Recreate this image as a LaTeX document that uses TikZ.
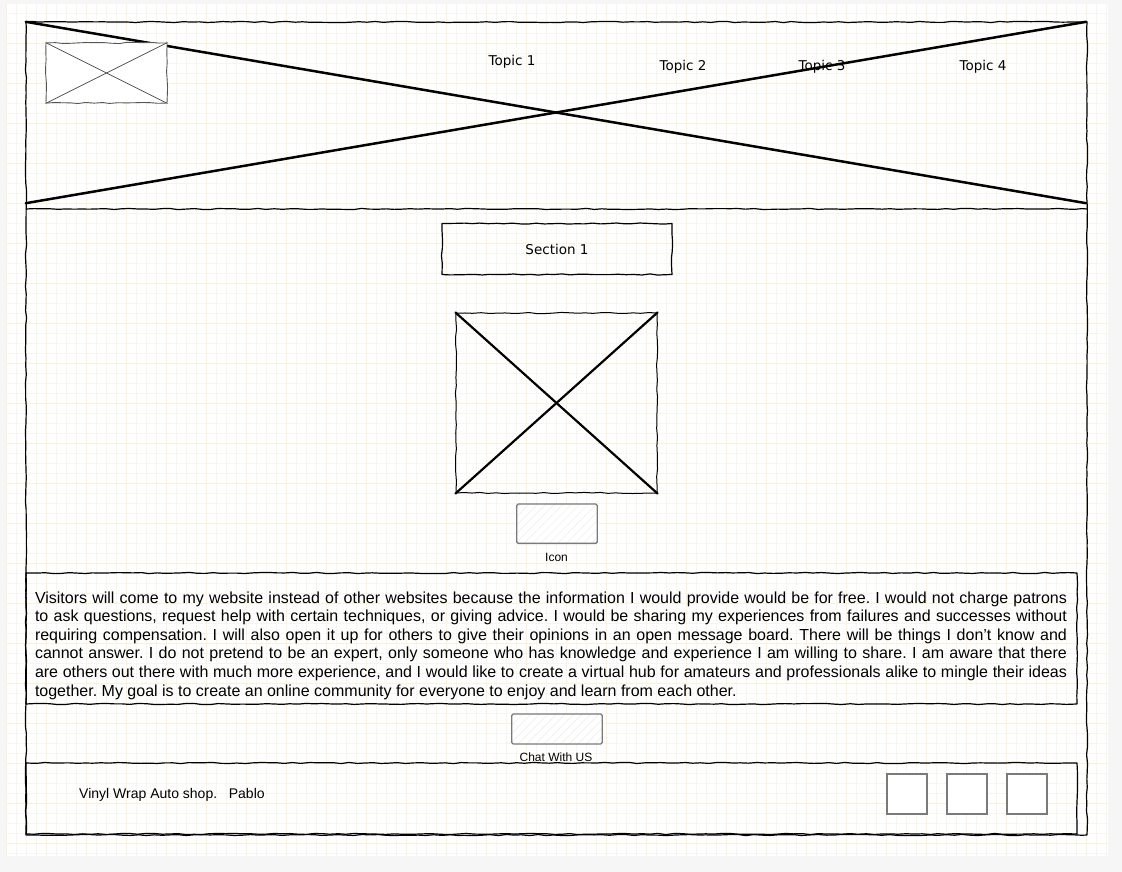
\documentclass[tikz,border=0pt]{standalone}
\usepackage{fontspec}
\setmainfont{Liberation Sans}
\newfontfamily\verd{DejaVu Sans}
\usetikzlibrary{positioning,decorations.pathmorphing,patterns.meta}
\definecolor{cpage}{HTML}{F6F6F6}
\definecolor{cminor}{HTML}{F6F5EF}
\definecolor{cmajor}{HTML}{FCF1D6}
\definecolor{cbtn}{HTML}{7A7A7A}
\definecolor{clogo}{HTML}{555555}
\tikzset{
  sketch/.style={draw=black, line width=1.2pt, line join=round, decorate,
    decoration={random steps, segment length=8pt, amplitude=0.6pt}},
  panel/.style={sketch, rectangle, inner sep=0pt},
  cross/.style={line width=2.5pt, line cap=round},
  thincross/.style={draw=clogo, line width=0.8pt},
  btn/.style={draw=cbtn, line width=1.3pt, rounded corners=1.5pt, inner sep=0pt,
    preaction={fill=white}, pattern={Lines[angle=45,distance=6pt,line width=0.5pt]}, pattern color=black!7},
  sqbox/.style={draw=cbtn, line width=1.3pt, fill=white, minimum size=40pt, inner sep=0pt},
  topic/.style={font=\verd\fontsize{13.5}{16}\selectfont, inner sep=0pt},
  lbl/.style={font=\fontsize{12}{14}\selectfont, inner sep=0pt},
  gminor/.style={draw=cminor, line width=0.6pt},
  gmajor/.style={draw=cmajor, line width=0.9pt},
}
\begin{document}
\frenchspacing
\begin{tikzpicture}[x=1pt,y=-1pt]
\pgfmathsetseed{11}
\useasboundingbox (0,0) rectangle (1122,872);
\fill[cpage] (0,0) rectangle (1122,872);
\fill[white] (6,4) rectangle (1108,856);
% grid
\foreach \i in {0,...,110} \draw[gminor] ({6.7+10*\i},4) -- ({6.7+10*\i},856);
\foreach \j in {1,...,85} \draw[gminor] (6,{3.3+10*\j}) -- (1108,{3.3+10*\j});
\foreach \i in {0,...,27} \draw[gmajor] ({6.7+40*\i},4) -- ({6.7+40*\i},856);
\foreach \j in {1,...,21} \draw[gmajor] (6,{3.3+40*\j}) -- (1108,{3.3+40*\j});

\node[panel, minimum width=1061pt, minimum height=813pt] (frame) at (556.5,428.5) {};
\draw[sketch] (26,209) -- (1087,209);

% header
\node[minimum width=1060pt, minimum height=181pt, inner sep=0pt] (hdrimg) at (556,112.5) {};
\draw[cross] (hdrimg.north west) -- (hdrimg.south east);
\draw[cross] (hdrimg.south west) -- (hdrimg.north east);
\node[panel, draw=clogo, line width=0.9pt, fill=white, minimum width=121pt, minimum height=60pt] (logo) at (106.5,73) {};
\draw[thincross] (logo.north west) -- (logo.south east);
\draw[thincross] (logo.south west) -- (logo.north east);
\node[topic] (t1) at (512,61.5) {Topic 1};
\node[topic] (t2) at (683,66.5) {Topic 2};
\node[topic] (t3) at (822,66.5) {Topic 3};
\node[topic] (t4) at (983,66.5) {Topic 4};

% section
\node[panel, minimum width=230pt, minimum height=51pt, font=\verd\fontsize{13.5}{16}\selectfont] (sec) at (557,249) {\raisebox{-1.5pt}{Section 1}};
\node[panel, line width=1pt, minimum width=201pt, minimum height=180pt] (img) at (556.5,403) {};
\draw[cross, line width=2.2pt] (img.north west) -- (img.south east);
\draw[cross, line width=2.2pt] (img.south west) -- (img.north east);
\node[btn, minimum width=80.6pt, minimum height=39.3pt] (icon) at (557,523.7) {};
\node[lbl] (iconlbl) at (556.5,557) {Icon};

% text
\node[panel, minimum width=1051pt, minimum height=131pt] (para) at (551.5,638.5) {};
\node[text width=1032pt, align=justify, inner sep=0pt, font=\fontsize{16}{18.6}\selectfont] (paratxt) at (551,645.5) {Visitors will come to my website instead of other websites because the information I would provide would be for free. I would not charge patrons\linebreak to ask questions, request help with certain techniques, or giving advice. I would be sharing my experiences from failures and successes without\linebreak requiring compensation. I will also open it up for others to give their opinions in an open message board. There will be things I don’t know and\linebreak cannot answer. I do not pretend to be an expert, only someone who has knowledge and experience I am willing to share. I am aware that there\linebreak are others out there with much more experience, and I would like to create a virtual hub for amateurs and professionals alike to mingle their ideas\linebreak together. My goal is to create an online community for everyone to enjoy and learn from each other.};

\node[btn, minimum width=90.6pt, minimum height=30pt] (chat) at (557,729) {};
\node[lbl] (chatlbl) at (556,757) {Chat With US};

% footer
\node[panel, minimum width=1051pt, minimum height=71pt] (foot) at (551.5,798.5) {};
\node[inner sep=0pt, anchor=west, font=\fontsize{14}{16}\selectfont] (shop) at (79,794.5) {Vinyl Wrap Auto shop.\ \ \ Pablo};
\node[sqbox] (sq1) at (907,794) {};
\node[sqbox, right=18.7pt of sq1] (sq2) {};
\node[sqbox, right=18.7pt of sq2] (sq3) {};
\end{tikzpicture}
\end{document}
